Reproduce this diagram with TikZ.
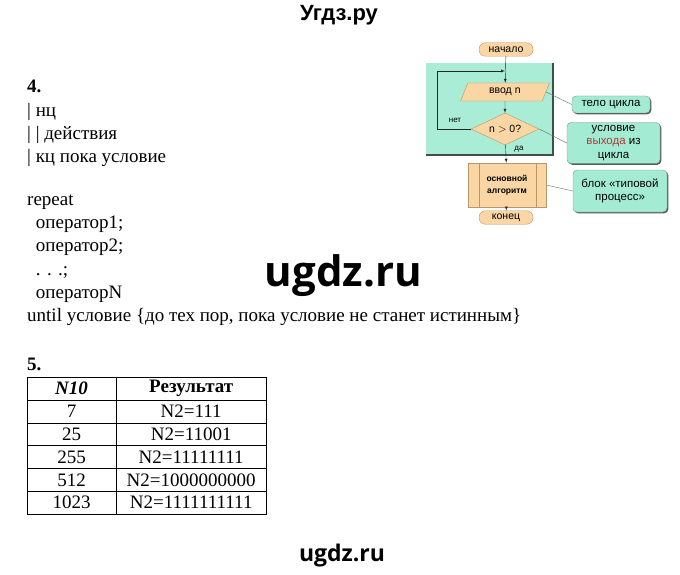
\documentclass[tikz,border=0pt]{standalone}
\usepackage{fontspec}
\setmainfont{Liberation Serif}
\setmonofont{Liberation Mono}
\newfontfamily\flowfont{Liberation Sans}
\newfontfamily\wmfont{Open Sans}
\usetikzlibrary{shapes.geometric,shadows,positioning}
\definecolor{boxorange}{HTML}{F9D6A3}
\definecolor{boxedge}{HTML}{B8966A}
\definecolor{loopteal}{HTML}{A9EDD7}
\definecolor{noteteal}{HTML}{A3EBD3}
\definecolor{darkedge}{HTML}{3F4F4A}
\definecolor{exitred}{HTML}{B03A3A}

\begin{document}
\begin{tikzpicture}[x=1pt,y=-1pt,
	txt/.style={anchor=base west,inner sep=0pt,font=\fontsize{19}{22}\selectfont},
	cell/.style={inner sep=0pt,font=\fontsize{19}{22}\selectfont},
	term/.style={draw=boxedge,fill=boxorange,rounded corners=6.5pt,minimum width=54pt,minimum height=13.5pt,inner sep=0pt,font=\flowfont\fontsize{10.5}{11}\selectfont},
	inbox/.style={trapezium,trapezium left angle=68,trapezium right angle=112,draw=boxedge,fill=boxorange,minimum width=56pt,minimum height=18pt,inner sep=0pt,font=\flowfont\fontsize{10.5}{11}\selectfont},
	test/.style={diamond,aspect=2.1,draw=boxedge,fill=boxorange,minimum width=68pt,minimum height=32pt,inner sep=0pt,font=\flowfont\fontsize{10.5}{11}\selectfont},
	procbox/.style={draw=boxedge,fill=boxorange,minimum width=78pt,minimum height=44pt,inner sep=0pt,align=center,font=\flowfont\bfseries\fontsize{8.5}{10}\selectfont},
	note/.style={draw=darkedge!60,fill=noteteal,rounded corners=4pt,align=center,inner sep=0pt,
		drop shadow={shadow xshift=1.3pt,shadow yshift=-1.3pt,fill=darkedge,opacity=.9},font=\flowfont\fontsize{11.5}{13.5}\selectfont},
	tag/.style={font=\flowfont\fontsize{8}{9}\selectfont,inner sep=0pt},
	flow/.style={-latex,thin,black!85},
	link/.style={thin,darkedge!80}]
	\useasboundingbox (0,0) rectangle (680,575);

	% headings and watermarks
	\node (site) at (339,15) {\flowfont\bfseries\fontsize{22}{24}\selectfont Угдз.ру};
	\node (mark) at (343.5,276) {\wmfont\bfseries\fontsize{42}{44}\selectfont ugdz.ru};
	\node (markb) at (342,556) {\wmfont\bfseries\fontsize{23}{25}\selectfont ugdz.ru};

	% task 4
	\node[txt] (n4) at (27,93) {\bfseries 4.};
	\node[txt] (l1) at (27,117) {| нц};
	\node[txt] (l2) at (27,140) {| | действия};
	\node[txt] (l3) at (27,163) {| кц пока условие};
	\node[txt] (r1) at (27,205) {repeat};
	\node[txt] (r2) at (31,228.5) {\ оператор1;};
	\node[txt] (r3) at (31,251.8) {\ оператор2;};
	\node[txt] (r4) at (31,275) {\ . . .;};
	\node[txt] (r5) at (31,298.3) {\ операторN};
	\node[txt] (r6) at (27,321.7) {until условие \{до тех пор, пока условие не станет истинным\}};

	% task 5
	\node[txt] (n5) at (27,370) {\bfseries 5.};
	\draw[thick] (27,377) rectangle (266.5,514);
	\foreach \y in {399.8,422.7,445.5,468.3,491.2}
		\draw (27,\y) -- (266.5,\y);
	\draw (116,377) -- (116,514);
	\node[cell] (h1) at (71.5,388.4) {\bfseries\itshape N10};
	\node[cell] (h2) at (191.2,388.4) {\bfseries Результат};
	\node[cell] (a1) at (71.5,411.2) {7};
	\node[cell] (b1) at (191.2,411.2) {N2=111};
	\node[cell] (a2) at (71.5,434.1) {25};
	\node[cell] (b2) at (191.2,434.1) {N2=11001};
	\node[cell] (a3) at (71.5,456.9) {255};
	\node[cell] (b3) at (191.2,456.9) {N2=11111111};
	\node[cell] (a4) at (71.5,479.8) {512};
	\node[cell] (b4) at (191.2,479.8) {N2=1000000000};
	\node[cell] (a5) at (71.5,502.6) {1023};
	\node[cell] (b5) at (191.2,502.6) {N2=1111111111};

	% flowchart
	\fill[loopteal] (426,63) rectangle (553,155);
	\draw[darkedge,line width=1.4pt] (426,155) -- (553,155) -- (553,63);
	\node[term] (start) at (506,49.5) {начало};
	\node[inbox] (body) at (505,92) {ввод \texttt{n}};
	\node[test] (cond) at (505,129) {\texttt{n} $>$ 0?};
	\node[procbox] (proc) at (507,185) {основной\\[2pt]алгоритм};
	\draw[boxedge] ([xshift=11pt]proc.north west) -- ([xshift=11pt]proc.south west);
	\draw[boxedge] ([xshift=-10pt]proc.north east) -- ([xshift=-10pt]proc.south east);
	\node[term] (stop) at (506,217.5) {конец};
	\coordinate (loopin) at (505,71);
	\coordinate (loopL) at (437,71);
	\draw[flow] (start) -- (body);
	\draw[flow] (cond.west) -| (loopL) -- (loopin);
	\draw[flow] (body) -- (cond);
	\draw[flow] (cond) -- (proc);
	\draw[flow] (proc) -- (stop);
	\node[tag] (no) at (455,120) {нет};
	\node[tag] (yes) at (519,149) {да};

	% notes
	\node[note,minimum width=78pt,minimum height=17pt] (tbody) at (611,104.5) {тело цикла};
	\node[note,minimum width=93pt,minimum height=41pt] (tcond) at (613.5,143) {условие\\\textcolor{exitred}{выхода} из\\цикла};
	\node[note,minimum width=94pt,minimum height=42pt] (tproc) at (620,191) {блок «типовой\\процесс»};
	\draw[link] (body.east) -- (tbody.west);
	\draw[link] (cond.east) -- (tcond.west);
	\draw[link] (proc.east) -- (tproc.west);
\end{tikzpicture}
\end{document}
